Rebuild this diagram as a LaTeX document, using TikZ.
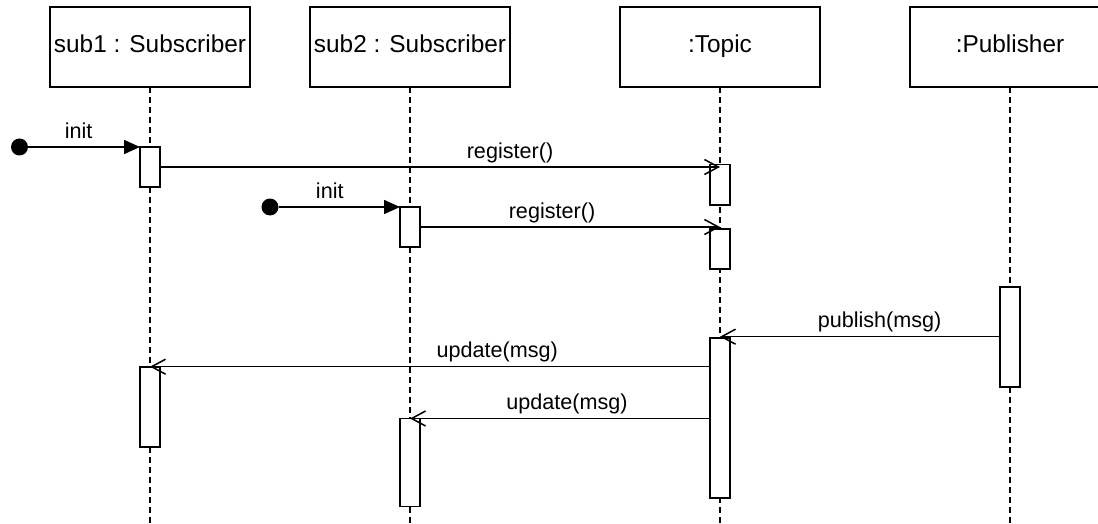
\documentclass[tikz,border=0pt]{standalone}
\usepackage{fontspec}
\setmainfont{Liberation Sans}
\usetikzlibrary{arrows.meta,positioning}

\begin{document}
\begin{tikzpicture}[
    x=0.5pt, y=-0.5pt,
    node distance=30pt,
    head/.style={
      draw,
      line width=0.8pt,
      minimum width=100pt,
      minimum height=40pt,
      inner sep=0pt,
      outer sep=0pt,
      text height=0.72em,
      text depth=0.16em,
      font=\fontsize{12.2}{14}\selectfont
    },
    bar/.style={
      draw,
      fill=white,
      line width=0.8pt,
      minimum width=10pt,
      inner sep=0pt,
      outer sep=0pt,
      anchor=north
    },
    lifeline/.style={line width=0.8pt, dash pattern=on 3pt off 2pt},
    startdot/.style={circle, fill=black, minimum size=8.5pt, inner sep=0pt},
    call/.style={-{Triangle[length=8pt,width=7pt]}, line width=0.75pt},
    msg/.style={-{Straight Barb[length=7pt,width=7.5pt]}, line width=0.75pt},
    lbl/.style={
      font=\fontsize{10.8}{13}\selectfont,
      inner sep=0pt,
      text height=0.75em,
      text depth=0.25em,
      above=1.5pt
    }
  ]

  \useasboundingbox (0,0) rectangle (1098,524);
  \clip (0,0) rectangle (1098,524);

  % objects
  \node[head] (sub1) at (150,47.3) {sub1 : Subscriber};
  \node[head, right=30pt of sub1] (sub2) {sub2 : Subscriber};
  \node[head, right=55pt of sub2] (topic) {:Topic};
  \node[head, right=45pt of topic] (pub) {:Publisher};

  % lifelines
  \coordinate (bottom) at (0,524);
  \foreach \o in {sub1,sub2,topic,pub}
    \draw[lifeline] (\o.south) -- (\o.south |- bottom);

  % activations
  \node[bar, minimum height=20pt] (s1act1) at (150,147) {};
  \node[bar, minimum height=40pt] (s1act2) at (150,366.7) {};
  \node[bar, minimum height=20pt] (s2act1) at (410,207) {};
  \node[bar, minimum height=44pt] (s2act2) at (410,418.5) {};
  \node[bar, minimum height=20pt] (tact1) at (720,164.7) {};
  \node[bar, minimum height=20pt] (tact2) at (720,228.7) {};
  \node[bar, minimum height=80pt] (tact3) at (720,338) {};
  \node[bar, minimum height=50pt] (pact) at (1010,286.7) {};

  % found messages
  \node[startdot] (start1) at (19.5,147) {};
  \node[startdot] (start2) at (270,207) {};

  \draw[call] (start1) -- node[lbl, pos=0.45] {init} (s1act1.north west);
  \draw[msg] (s1act1.east) -- node[lbl, pos=0.625] {register()} (s1act1.east -| tact1.north);
  \draw[call] (start2) -- node[lbl, pos=0.42] {init} (s2act1.north west);
  \draw[msg] (s2act1.east) -- node[lbl, pos=0.44] {register()} (s2act1.east -| tact2.north);
  \draw[msg] (pact.west) -- node[lbl, pos=0.43] {publish(msg)} (pact.west -| tact3.north);
  \draw[msg] (tact3.west |- s1act2.north) -- node[lbl, pos=0.38] {update(msg)} (s1act2.north);
  \draw[msg] (tact3.west |- s2act2.north) -- node[lbl, pos=0.477] {update(msg)} (s2act2.north);

\end{tikzpicture}
\end{document}
